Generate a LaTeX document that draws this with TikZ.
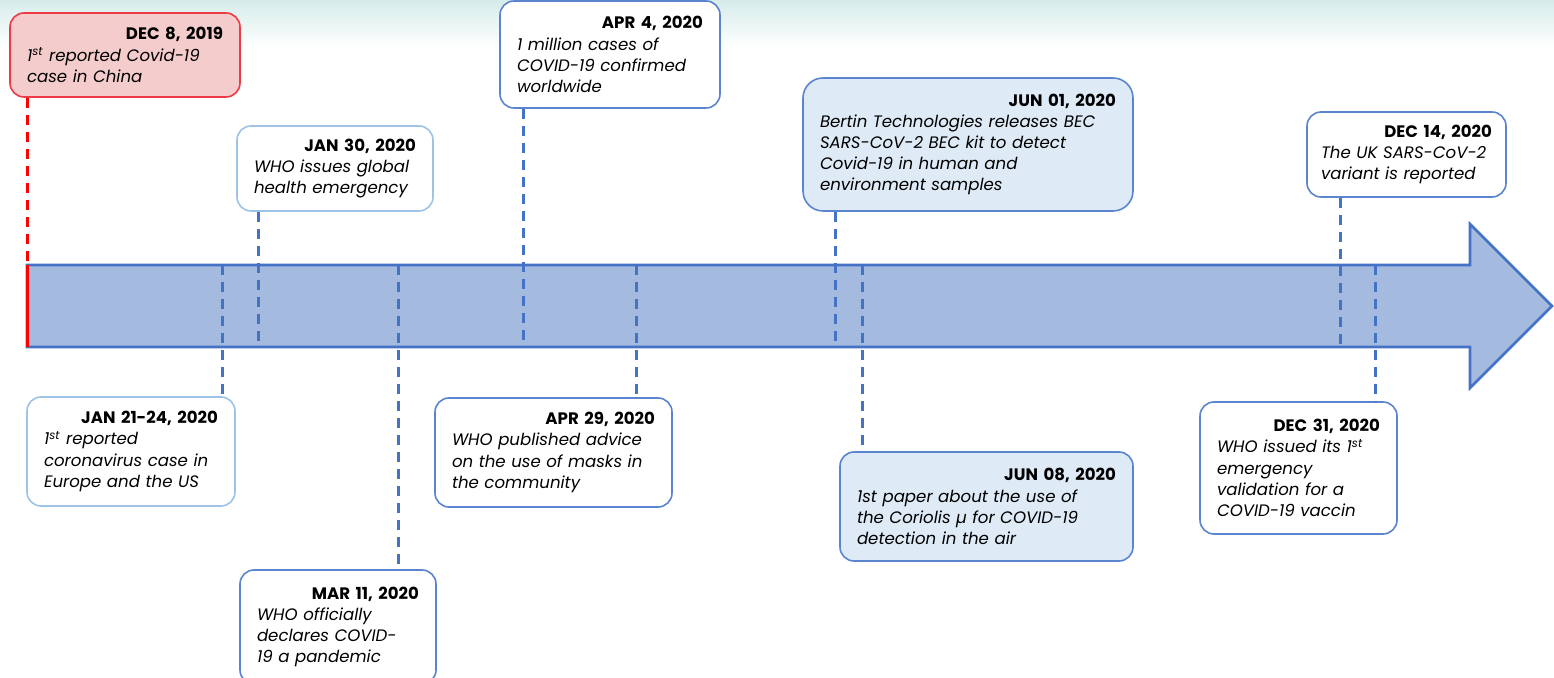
\documentclass[tikz,border=0pt]{standalone}
\usepackage{fontspec}
\setmainfont{Poppins}
\usetikzlibrary{calc}
\definecolor{arrowfill}{HTML}{A4BADF}
\definecolor{arrowdraw}{HTML}{4472C4}
\definecolor{redfill}{HTML}{F4CCCC}
\definecolor{reddraw}{HTML}{EE3A45}
\definecolor{paleblue}{HTML}{DEEAF6}
\definecolor{lightborder}{HTML}{9DC3E6}
\definecolor{midborder}{HTML}{5B84CF}
\definecolor{conncol}{HTML}{4472C4}
\definecolor{topteal}{HTML}{D6ECEA}
\tikzset{
  evt/.style={draw=midborder, fill=white, line width=0.8pt, rounded corners=7pt,
    inner xsep=8.5pt, inner ysep=0pt, align=left, font=\fontsize{8.3}{10.6}\selectfont},
  evtred/.style={evt, draw=reddraw, fill=redfill},
  evtlight/.style={evt, draw=lightborder},
  evtpale/.style={evt, fill=paleblue},
  conn/.style={draw=conncol, line width=1.5pt, dash pattern=on 5pt off 3.5pt},
  redconn/.style={draw=red, line width=1.5pt, dash pattern=on 5pt off 3.5pt},
}
\newcommand{\dt}[1]{\hfill\textbf{#1}\\}
\begin{document}
\begin{tikzpicture}[x=0.5pt,y=-0.5pt]
\useasboundingbox (0,0) rectangle (1554,678);
% faint top background band
\shade[top color=topteal, bottom color=white, draw=none] (0,0) rectangle (1554,48);
% arrow
\draw[fill=arrowfill, draw=arrowdraw, line width=1.3pt]
  (27,265) -- (1470,265) -- (1470,224) -- (1552,306) -- (1470,388) -- (1470,347) -- (27,347) -- cycle;
\coordinate (red0) at (27,265);
\coordinate (red1) at (27,347);
\coordinate (t2) at (258,347);
\coordinate (t3) at (523,347);
\coordinate (t4) at (835,347);
\coordinate (t5) at (1340,347);
\coordinate (b6) at (222,265);
\coordinate (b7) at (398,265);
\coordinate (b8) at (636,265);
\coordinate (b9) at (862,265);
\coordinate (b10) at (1375,265);
% boxes above
\node[evtred, text width=98pt, minimum height=42pt] (dec8) at (125,55)
  {\dt{DEC 8, 2019}\itshape 1\textsuperscript{st} reported Covid-19\\case in China};
\node[evtlight, text width=81pt, minimum height=42.5pt] (jan30) at (335,168.5)
  {\dt{JAN 30, 2020}\itshape WHO issues global\\health emergency};
\node[evt, text width=93pt, minimum height=53.5pt] (apr4) at (610,54.5)
  {\dt{APR 4, 2020}\itshape 1 million cases of\\COVID-19 confirmed\\worldwide};
\node[evtpale, rounded corners=10pt, text width=148pt, minimum height=66.5pt] (jun01) at (968,144.5)
  {\dt{JUN 01, 2020}\itshape Bertin Technologies releases BEC\\SARS-CoV-2 BEC kit to detect\\Covid-19 in human and\\environment samples};
\node[evt, inner xsep=7pt, text width=85.5pt, minimum height=42.5pt] (dec14) at (1406.5,154.5)
  {\dt{DEC 14, 2020}\itshape \mbox{The UK SARS-CoV-2}\\variant is reported};
% boxes below
\node[evtlight, text width=87pt, minimum height=54.5pt] (jan21) at (131,451.5)
  {\dt{JAN 21-24, 2020}\itshape 1\textsuperscript{st} reported\\coronavirus case in\\Europe and the US};
\node[evt, text width=81pt, minimum height=57pt] (mar11) at (338,627)
  {\dt{MAR 11, 2020}\itshape WHO officially\\declares COVID-\\19 a pandemic};
\node[evt, text width=101.5pt, minimum height=54.5pt] (apr29) at (553.5,452.5)
  {\dt{APR 29, 2020}\itshape WHO published advice\\on the use of masks in\\the community};
\node[evtpale, text width=129.5pt, minimum height=54.5pt] (jun08) at (986.5,506.5)
  {\dt{JUN 08, 2020}\itshape 1st paper about the use of\\the Coriolis µ for COVID-19\\detection in the air};
\node[evt, text width=81.5pt, minimum height=66pt] (dec31) at (1298.5,468)
  {\dt{DEC 31, 2020}\itshape WHO issued its 1\textsuperscript{st}\\emergency\\validation for a\\COVID-19 vaccin};
% connectors
\draw[redconn] (dec8.south -| red0) -- (red0);
\draw[draw=red, line width=1.5pt] (red0) -- (red1);
\draw[conn] (jan30.south -| t2) -- (t2);
\draw[conn] (apr4.south -| t3) -- (t3);
\draw[conn] (jun01.south -| t4) -- (t4);
\draw[conn] (dec14.south -| t5) -- (t5);
\draw[conn] (b6) -- (jan21.north -| b6);
\draw[conn] (b7) -- (mar11.north -| b7);
\draw[conn] (b8) -- (apr29.north -| b8);
\draw[conn] (b9) -- (jun08.north -| b9);
\draw[conn] (b10) -- (dec31.north -| b10);
\end{tikzpicture}
\end{document}
